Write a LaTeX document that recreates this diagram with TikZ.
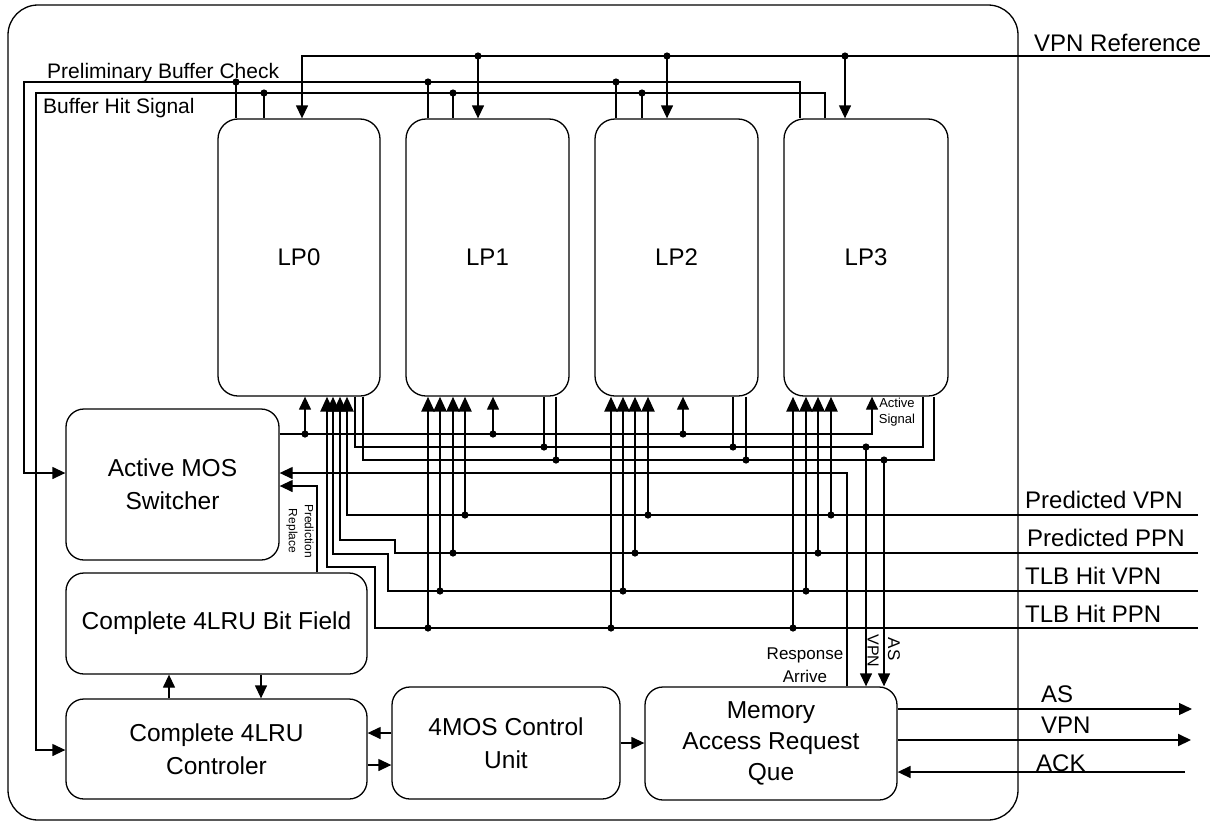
\documentclass[tikz,border=0pt]{standalone}
\usepackage{fontspec}
\setmainfont{Liberation Sans}
\usetikzlibrary{arrows.meta}
\newcommand\jdot[1]{\fill #1 circle (3.6pt);}
\begin{document}
\begin{tikzpicture}[x=1pt,y=-1pt,
  wire/.style={line width=1.3pt},
  bus/.style={line width=2.5pt},
  arr/.style={-{Triangle[length=13pt,width=12pt]}},
  barr/.style={-{Triangle[length=15pt,width=13pt]}},
  box/.style={draw,line width=1.3pt,rounded corners=18pt,inner sep=0pt,align=center,
    font=\fontsize{24.5}{33}\selectfont},
  lpbox/.style={box,rounded corners=20pt,minimum width=163pt,minimum height=277pt,
    font=\fontsize{24}{28}\selectfont},
  lbl/.style={inner sep=0pt,font=\fontsize{24}{28}\selectfont},
  toplbl/.style={inner sep=0pt,font=\fontsize{21}{24}\selectfont},
  small/.style={inner sep=0pt,align=center}]
\useasboundingbox (0,0) rectangle (1210,822);
% outer frame
\draw[wire,rounded corners=30pt] (8,5) rectangle (1018,820);

% LP boxes
\node[lpbox,minimum width=162pt] (LP0) at (299,257.5) {LP0};
\node[lpbox] (LP1) at (487.5,257.5) {LP1};
\node[lpbox] (LP2) at (676.5,257.5) {LP2};
\node[lpbox,minimum width=164pt] (LP3) at (866,257.5) {LP3};

% other boxes
\node[box,minimum width=213pt,minimum height=151pt] (AMS) at (172.5,484.5) {Active MOS\\Switcher};
\node[box,minimum width=301pt,minimum height=101pt] (BF) at (216.5,623.5) {Complete 4LRU Bit Field};
\node[box,minimum width=301pt,minimum height=100pt] (CTL) at (216.5,749) {Complete 4LRU\\Controler};
\node[box,minimum width=228pt,minimum height=112pt] (MOS) at (506,743) {4MOS Control\\Unit};
\node[box,minimum width=252pt,minimum height=113pt,font=\fontsize{24.5}{31}\selectfont] (MEM) at (771,743.5) {Memory\\Access Request\\Que};

% ---------- top signals ----------
\node[lbl,anchor=base west] (vpnref) at (1034,51) {VPN Reference};
\node[toplbl,anchor=base west] (pbc) at (47,78) {Preliminary Buffer Check};
\node[toplbl,anchor=base west] (bhs) at (43,113) {Buffer Hit Signal};

\draw[wire,arr] (1210,56) -- (302,56) -- (302,0 |- LP0.north);
\foreach \x/\n in {478/LP1,667/LP2,845/LP3}{
  \draw[wire,arr] (\x,56) -- (\x,0 |- \n.north);
  \jdot{(\x,56)}
}
\draw[wire,arr] (800,0 |- LP3.north) -- (800,82) -- (24,82) -- (24,473) -- (AMS.west |- 0,473);
\foreach \x/\n in {236/LP0,428/LP1,616/LP2}{
  \draw[wire] (\x,82) -- (\x,0 |- \n.north);
  \jdot{(\x,82)}
}
\draw[wire,arr] (825,0 |- LP3.north) -- (825,93) -- (36,93) -- (36,750) -- (CTL.west |- 0,750);
\foreach \x/\n in {264/LP0,453/LP1,642/LP2}{
  \draw[wire] (\x,93) -- (\x,0 |- \n.north);
  \jdot{(\x,93)}
}

% ---------- active signal ----------
\draw[wire,arr] (AMS.east |- 0,434) -- (872,434) -- (872,0 |- LP3.south);
\foreach \x/\n in {305/LP0,493/LP1,683/LP2}{
  \draw[wire,arr] (\x,434) -- (\x,0 |- \n.south);
  \jdot{(\x,434)}
}
\node[small,font=\fontsize{13}{16}\selectfont] (actsig) at (897,412) {Active\\Signal};

% ---------- VPN (447) and AS (460) collection lines ----------
\draw[wire] (355,0 |- LP0.south) -- (355,447) -- (923,447) -- (923,0 |- LP3.south);
\draw[wire] (363,0 |- LP0.south) -- (363,460) -- (934,460) -- (934,0 |- LP3.south);
\draw[wire] (544,0 |- LP1.south) -- (544,447); \jdot{(544,447)}
\draw[wire] (556,0 |- LP1.south) -- (556,460); \jdot{(556,460)}
\draw[wire] (733,0 |- LP2.south) -- (733,447); \jdot{(733,447)}
\draw[wire] (746,0 |- LP2.south) -- (746,460); \jdot{(746,460)}
\draw[line width=2.4pt] (695,447) -- (708,447);
\draw[wire,arr] (866,447) -- (866,0 |- MEM.north); \jdot{(866,447)}
\draw[wire,arr] (884,460) -- (884,0 |- MEM.north); \jdot{(884,460)}
\node[rotate=-90,inner sep=0pt,font=\fontsize{16}{16}\selectfont] (vpnlbl) at (873,651) {VPN};
\node[rotate=-90,inner sep=0pt,font=\fontsize{17}{17}\selectfont] (aslbl) at (894,649) {AS};

% ---------- response arrive / prediction replace ----------
\draw[wire,arr] (847,0 |- MEM.north) -- (847,473) -- (AMS.east |- 0,473);
\node[small,font=\fontsize{17}{23}\selectfont] (resp) at (805,665) {Response\\Arrive};
\draw[wire,arr] (317,0 |- BF.north) -- (317,486) -- (AMS.east |- 0,486);
\node[small,rotate=-90,font=\fontsize{12}{16}\selectfont] (predrep) at (300,531) {Prediction\\Replace};

% ---------- buses ----------
\node[lbl,anchor=base west] (pvpn) at (1025,508) {Predicted VPN};
\node[lbl,anchor=base west] (pppn) at (1027,546) {Predicted PPN};
\node[lbl,anchor=base west] (tvpn) at (1025,584) {TLB Hit VPN};
\node[lbl,anchor=base west] (tppn) at (1025,622) {TLB Hit PPN};

\draw[bus,barr] (1198,515) -- (347,515) -- (347,0 |- LP0.south);
\draw[bus,barr] (1198,553) -- (395,553) -- (395,540) -- (340,540) -- (340,0 |- LP0.south);
\draw[bus,barr] (1198,591) -- (388,591) -- (388,554) -- (333,554) -- (333,0 |- LP0.south);
\draw[bus,barr] (1198,628) -- (375,628) -- (375,567) -- (327,567) -- (327,0 |- LP0.south);

\foreach \a/\b/\c/\d/\n in {428/440/453/465/LP1,611/623/635/648/LP2,793/806/818/831/LP3}{
  \draw[bus,barr] (\d,515) -- (\d,0 |- \n.south); \jdot{(\d,515)}
  \draw[bus,barr] (\c,553) -- (\c,0 |- \n.south); \jdot{(\c,553)}
  \draw[bus,barr] (\b,591) -- (\b,0 |- \n.south); \jdot{(\b,591)}
  \draw[bus,barr] (\a,628) -- (\a,0 |- \n.south); \jdot{(\a,628)}
}

% ---------- bottom connections ----------
\draw[wire,arr] (169,0 |- CTL.north) -- (169,0 |- BF.south);
\draw[wire,arr] (261,0 |- BF.south) -- (261,0 |- CTL.north);
\draw[wire,arr] (MOS.west |- 0,733) -- (CTL.east |- 0,733);
\draw[wire,arr] (CTL.east |- 0,765) -- (MOS.west |- 0,765);
\draw[wire,arr] (MOS.east |- 0,743) -- (MEM.west |- 0,743);

\node[lbl,anchor=base west] (asout) at (1041,702) {AS};
\node[lbl,anchor=base west] (vpnout) at (1041,733) {VPN};
\node[lbl,anchor=base west] (ackin) at (1036,771) {ACK};
\coordinate (asend) at (1192,709);
\coordinate (vpnend) at (1191,740);
\coordinate (ackstart) at (1185,772);
\draw[wire,arr] (MEM.east |- asend) -- (asend);
\draw[line width=2pt,arr] (MEM.east |- vpnend) -- (vpnend);
\draw[line width=1.6pt,arr] (ackstart) -- (MEM.east |- ackstart);
\end{tikzpicture}
\end{document}
